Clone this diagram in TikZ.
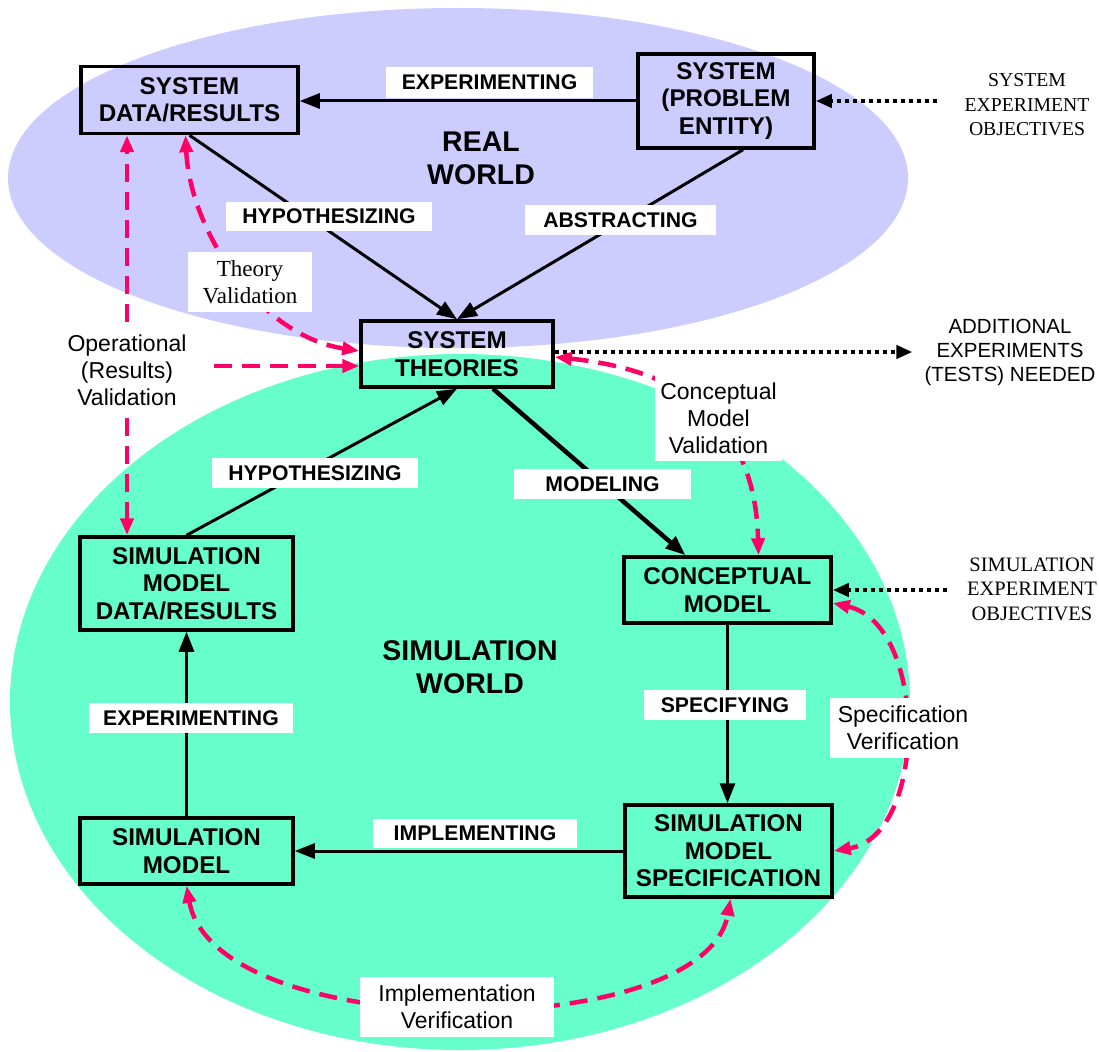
\documentclass[tikz,border=0pt]{standalone}
\usepackage{fontspec}
\setmainfont{Liberation Serif}
\setsansfont{Liberation Sans}
\usetikzlibrary{arrows.meta,calc}
\definecolor{lav}{RGB}{204,204,255}
\definecolor{sea}{RGB}{102,255,204}
\definecolor{vpink}{RGB}{255,0,102}
\tikzset{
  btip/.tip={Triangle[length=20pt,width=15pt]},
  ptip/.tip={Triangle[length=17pt,width=13pt]},
  dtip/.tip={Triangle[length=16pt,width=13pt]},
}
\begin{document}
\begin{tikzpicture}[x=1pt,y=-1pt,
  box/.style={draw=black,line width=3.5pt,align=center,inner sep=0pt,font=\sffamily\bfseries\fontsize{24.2}{27.5}\selectfont},
  lbl/.style={fill=white,inner sep=0pt,font=\sffamily\bfseries\fontsize{21.2}{24}\selectfont},
  world/.style={align=center,inner sep=0pt,font=\sffamily\bfseries\fontsize{28.5}{33}\selectfont},
  conn/.style={draw=black,line width=3pt,-btip},
  vlabel/.style={fill=white,align=center,inner sep=0pt,font=\sffamily\fontsize{23}{27}\selectfont},
  slabel/.style={fill=white,align=center,inner sep=0pt,font=\rmfamily\fontsize{23}{27}\selectfont},
  pinkdash/.style={draw=vpink,line width=4.5pt,dash pattern=on 18pt off 10pt},
  dotline/.style={draw=black,line width=4pt,dash pattern=on 4pt off 4pt,-dtip},
]
\useasboundingbox (0,0) rectangle (1099,1051);
\fill[white] (0,0) rectangle (1099,1051);
% worlds
\fill[lav] (458,178) ellipse [x radius=450, y radius=170];
\fill[sea] (460,702) ellipse [x radius=450, y radius=348];
\node[world] (realw) at (481,158.5) {REAL\\WORLD};
\node[world] (simw) at (470,667.5) {SIMULATION\\WORLD};

% boxes
\node[box,minimum width=217pt,minimum height=67pt] (sysdata) at (189.5,100) {SYSTEM\\DATA/RESULTS};
\node[box,minimum width=176pt,minimum height=94pt] (sysprob) at (726,101) {SYSTEM\\(PROBLEM\\ENTITY)};
\node[box,minimum width=192pt,minimum height=66pt] (st) at (457,354) {SYSTEM\\THEORIES};
\node[box,minimum width=213pt,minimum height=93pt] (simdata) at (186.5,583.5) {SIMULATION\\MODEL\\DATA/RESULTS};
\node[box,minimum width=213pt,minimum height=66pt] (simmodel) at (186.5,851) {SIMULATION\\MODEL};
\node[box,minimum width=207pt,minimum height=66pt] (cm) at (727.5,590) {CONCEPTUAL\\MODEL};
\node[box,minimum width=207pt,minimum height=92pt] (simspec) at (728.5,851) {SIMULATION\\MODEL\\SPECIFICATION};

% side texts
\node[align=center,inner sep=0pt,inner xsep=27pt,font=\rmfamily\fontsize{19.7}{24.5}\selectfont] (sysexp) at (1027,105) {SYSTEM\\EXPERIMENT\\OBJECTIVES};
\node[align=center,inner sep=0pt,inner xsep=12pt,font=\sffamily\fontsize{20.5}{24}\selectfont] (addexp) at (1010,352) {ADDITIONAL\\EXPERIMENTS\\(TESTS) NEEDED};
\node[align=center,inner sep=0pt,inner xsep=20pt,font=\rmfamily\fontsize{20.5}{24.5}\selectfont] (simexp) at (1032,589) {SIMULATION\\EXPERIMENT\\OBJECTIVES};

% main connectors
\draw[conn] (sysprob.west) -- (sysprob.west -| sysdata.east);
\draw[conn] (sysdata.south) -- (st.north);
\draw[conn] ([xshift=17pt]sysprob.south) -- (st.north);
\draw[conn] (simdata.north) -- (st.south);
\draw[conn,line width=4.5pt] ([xshift=36pt]st.south) -- ([xshift=-42pt]cm.north);
\draw[conn] (cm.south) -- (cm.south |- simspec.north);
\draw[conn] (simspec.west) -- (simspec.west -| simmodel.east);
\draw[conn] (simmodel.north) -- (simmodel.north |- simdata.south);

% dotted connectors
\draw[dotline] ([yshift=2pt]st.east) -- ([yshift=2pt]st.east -| addexp.west);
\draw[dotline] (sysprob.east -| sysexp.west) -- (sysprob.east);
\draw[dotline] (cm.east -| simexp.west) -- (cm.east);

% connector labels
\node[lbl,minimum width=207pt,minimum height=31pt] (lexp1) at (489.5,82.5) {EXPERIMENTING};
\node[lbl,minimum width=206pt,minimum height=29pt] (lhyp1) at (329,216.5) {HYPOTHESIZING};
\node[lbl,minimum width=191pt,minimum height=30pt] (labs) at (620.5,220) {ABSTRACTING};
\node[lbl,minimum width=206pt,minimum height=30pt] (lhyp2) at (315,473) {HYPOTHESIZING};
\node[lbl,minimum width=177pt,minimum height=30pt] (lmod) at (602.5,484) {MODELING};
\node[lbl,minimum width=162pt,minimum height=30pt] (lspec) at (725,705) {SPECIFYING};
\node[lbl,minimum width=204pt,minimum height=30pt] (lexp2) at (191,718) {EXPERIMENTING};
\node[lbl,minimum width=204pt,minimum height=29pt] (limp) at (475,833.5) {IMPLEMENTING};

% validation / verification paths
\draw[pinkdash,ptip-ptip] ([xshift=-4pt]sysdata.south) .. controls (190,230) and (258,335) .. ([yshift=3pt]st.west);
\draw[pinkdash,ptip-ptip] ([yshift=-3pt]st.east) .. controls (680,370) and (755,420) .. ([xshift=31pt]cm.north);
\draw[pinkdash,ptip-ptip] ([yshift=-13pt]cm.east) .. controls (928,625) and (928,835) .. (simspec.east);
\draw[pinkdash,ptip-ptip] (simmodel.south) .. controls (215,1045) and (705,1045) .. ([xshift=2pt]simspec.south);

\node[vlabel,fill=none,minimum height=95pt,inner xsep=27pt] (opval) at (127,370) {Operational\\(Results)\\Validation};
\draw[pinkdash,-ptip] (opval.north) -- (opval.north |- sysdata.south);
\draw[pinkdash,-ptip] (opval.south) -- (opval.south |- simdata.north);
\draw[pinkdash,-ptip] ([yshift=4pt]opval.east) -- ([yshift=4pt]opval.east -| st.west);

\node[slabel,minimum width=124pt,minimum height=60pt] (thval) at (250,282) {Theory\\Validation};
\node[vlabel,minimum width=127pt,minimum height=86pt] (cmval) at (718.5,418) {Conceptual\\Model\\Validation};
\node[vlabel,minimum width=146pt,minimum height=60pt] (specver) at (903,728) {Specification\\Verification};
\node[vlabel,minimum width=194pt,minimum height=60pt] (impver) at (457,1007) {Implementation\\Verification};
\end{tikzpicture}
\end{document}
